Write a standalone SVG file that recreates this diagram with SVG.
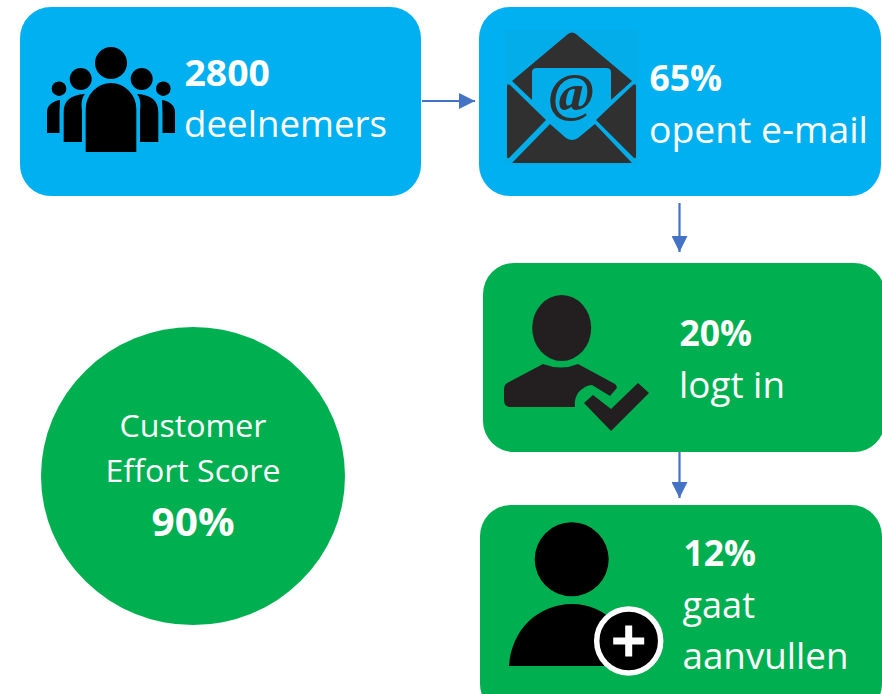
<svg xmlns="http://www.w3.org/2000/svg" width="882" height="694" viewBox="0 0 882 694">
<style>
text{font-family:"Open Sans","Noto Sans",sans-serif;fill:#fff}
.l{font-size:37px}
.b{font-size:36px;font-weight:700}
.c{font-size:31px}
.blue{fill:#00B0F0}
.green{fill:#00B050}
.ln{stroke:#4472C4;stroke-width:2.2;fill:none}
</style>
<defs>
<marker id="a" markerUnits="userSpaceOnUse" markerWidth="16" markerHeight="16" refX="16" refY="8" orient="auto"><path d="M0 0L16 8L0 16Z" fill="#4472C4"/></marker>
</defs>
<rect width="882" height="694" fill="#fff"/>
<g id="connectors">
<path class="ln" marker-end="url(#a)" d="M422 101H475"/>
<path class="ln" marker-end="url(#a)" d="M679.500 203V252"/>
<path class="ln" marker-end="url(#a)" d="M679.500 452V498"/>
</g>
<g id="node-deelnemers">
<rect class="blue" x="20" y="7" width="401" height="189" rx="31"/>
<g fill="#000">
<circle cx="111" cy="63" r="16"/>
<circle cx="80.700" cy="79" r="11"/>
<circle cx="141.700" cy="79" r="11"/>
<circle cx="59" cy="88.700" r="7.300"/>
<circle cx="163.300" cy="88.700" r="7.300"/>
<path d="M85.700 152V109a25.300 26 0 0 1 50.600 0V152Z"/>
<path d="M63.700 142V112C63.700 101 70 95 85 94C80 100 82 108 82 112V142Z"/>
<path d="M158.300 142V112C158.300 101 152 95 137 94C142 100 140 108 140 112V142Z"/>
<path d="M47 133V112C47 106 52 101 60 100C60 104 59.500 108 59.500 112V133Z"/>
<path d="M175 133V112C175 106 170 101 162 100C162 104 162.500 108 162.500 112V133Z"/>
</g>
<text class="b" x="184.500" y="86" textLength="85.500" lengthAdjust="spacingAndGlyphs">2800</text>
<text class="l" x="184" y="137" textLength="203" lengthAdjust="spacingAndGlyphs">deelnemers</text>
</g>
<g id="node-email">
<rect class="blue" x="479" y="7" width="402" height="189" rx="31"/>
<rect x="505" y="30" width="133" height="135" fill="#03ADEA"/>
<g fill="#303030">
<path d="M512 81L568 34Q572 31 576 34L632 81L611 100V72Q611 68 606 68H537Q532 68 532 72V100Z"/>
<path d="M507 86Q507 83 510 85L546 120L510 157Q507 160 507 156Z"/>
<path d="M636 86Q636 83 633 85L596 120L633 157Q636 160 636 156Z"/>
<path d="M512 163L550 124L566 138Q572 142 578 138L595 124L632 163Z"/>
</g>
<text x="571.500" y="111" text-anchor="middle" style="font-family:'Liberation Serif',serif;font-size:54px;font-style:italic;font-weight:700;fill:#303030">@</text>
<text class="b" x="649.500" y="91" textLength="72.500" lengthAdjust="spacingAndGlyphs">65%</text>
<text class="l" x="649" y="143" textLength="219" lengthAdjust="spacingAndGlyphs">opent e-mail</text>
</g>
<g id="node-login">
<rect class="green" x="483" y="263" width="402" height="189" rx="31"/>
<g fill="#231F20">
<ellipse cx="561.700" cy="328" rx="29.500" ry="33"/>
<path d="M543 364Q561 371 578 364L615 384Q618 387 616 389L610 396L592 385Q585 385 578 393Q574 399 575 407H510Q504 407 504 400V389Q504 384 509 382Z"/>
<path d="M584 403L593 395L611 409L638 383L649 393L611 431Z"/>
</g>
<text class="b" x="679.500" y="346" textLength="72.500" lengthAdjust="spacingAndGlyphs">20%</text>
<text class="l" x="679" y="398" textLength="106" lengthAdjust="spacingAndGlyphs">logt in</text>
</g>
<g id="node-aanvullen">
<rect class="green" x="480" y="505" width="402" height="210" rx="31"/>
<g fill="#000">
<circle cx="571.700" cy="559.300" r="37"/>
<path d="M509 666C511 630 538 604 572 604C606 604 630 630 632 666Z"/>
</g>
<circle cx="628.700" cy="641" r="32" fill="#000" stroke="#fff" stroke-width="5.500"/>
<path d="M628.700 625.500V656.500M613.200 641H644.200" stroke="#fff" stroke-width="7" fill="none"/>
<text class="b" x="683.500" y="566" textLength="72.500" lengthAdjust="spacingAndGlyphs">12%</text>
<text class="l" x="682.500" y="618" textLength="72.500" lengthAdjust="spacingAndGlyphs">gaat</text>
<text class="l" x="682.500" y="669" textLength="166" lengthAdjust="spacingAndGlyphs">aanvullen</text>
</g>
<g id="node-score">
<ellipse class="green" cx="193" cy="476" rx="152" ry="149"/>
<text class="c" x="119.500" y="437" textLength="147" lengthAdjust="spacingAndGlyphs">Customer</text>
<text class="c" x="105.500" y="482" textLength="175" lengthAdjust="spacingAndGlyphs">Effort Score</text>
<text class="b" style="font-size:39px" x="151.500" y="536" textLength="83" lengthAdjust="spacingAndGlyphs">90%</text>
</g>
</svg>
